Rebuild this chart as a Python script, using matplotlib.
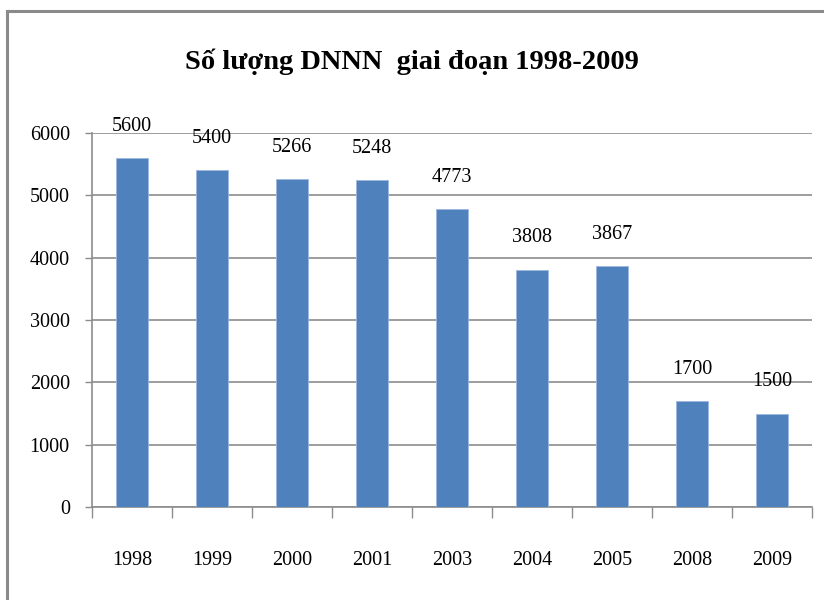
import matplotlib.pyplot as plt
import matplotlib.lines as mlines
import numpy as np

years = ['1998', '1999', '2000', '2001', '2003', '2004', '2005', '2008', '2009']
counts = [5600, 5400, 5266, 5248, 4773, 3808, 3867, 1700, 1500]
title = 'Số lượng DNNN  giai đoạn 1998-2009'

plt.rcParams['font.family'] = ['Liberation Serif', 'DejaVu Serif']

fig = plt.figure(figsize=(8.24, 6), dpi=100)
ax = fig.add_axes([92 / 824, 1 - 507 / 600, (812 - 92) / 824, (507 - 133) / 600])

x = np.arange(len(years))
bars = ax.bar(x, counts, width=0.4, color='#4F81BD', edgecolor='#9DB9DE',
              linewidth=0.6, zorder=3)

for xi, v in zip(x, counts):
    ax.annotate(str(v), xy=(xi, v), xytext=(0, 16), textcoords='offset points',
                ha='center', va='bottom', fontsize=14.5, zorder=4)

ax.set_xlim(-0.5, len(years) - 0.5)
ax.set_ylim(0, 6000)
ax.set_yticks(np.arange(0, 6001, 1000))
ax.grid(axis='y', color='#8C8C8C', linewidth=1.2, zorder=0)
ax.set_axisbelow(True)

ax.set_xticks(x)
ax.set_xticklabels(years)
ax.set_xticks(np.arange(-0.5, len(years)), minor=True)
ax.tick_params(axis='x', which='major', length=0, pad=32, labelsize=14.5, colors='black')
ax.tick_params(axis='x', which='minor', length=8, width=1, color='#8C8C8C')
ax.tick_params(axis='y', length=5, width=1, color='#8C8C8C', pad=11, labelsize=14.5)

for s in ['top', 'right']:
    ax.spines[s].set_visible(False)
for s in ['left', 'bottom']:
    ax.spines[s].set_color('#8C8C8C')
    ax.spines[s].set_linewidth(1.2)

fig.text(0.5, 1 - 62 / 600, title, ha='center', va='center',
         fontsize=20.5, fontweight='bold')

# outer frame (top and left edges visible)
fig.add_artist(mlines.Line2D([7 / 824, 1], [1 - 11 / 600, 1 - 11 / 600],
                             color='#8A8A8A', linewidth=2.2, transform=fig.transFigure))
fig.add_artist(mlines.Line2D([7 / 824, 7 / 824], [0, 1 - 11 / 600],
                             color='#8A8A8A', linewidth=2.2, transform=fig.transFigure))

plt.savefig('out.png', dpi=100)
